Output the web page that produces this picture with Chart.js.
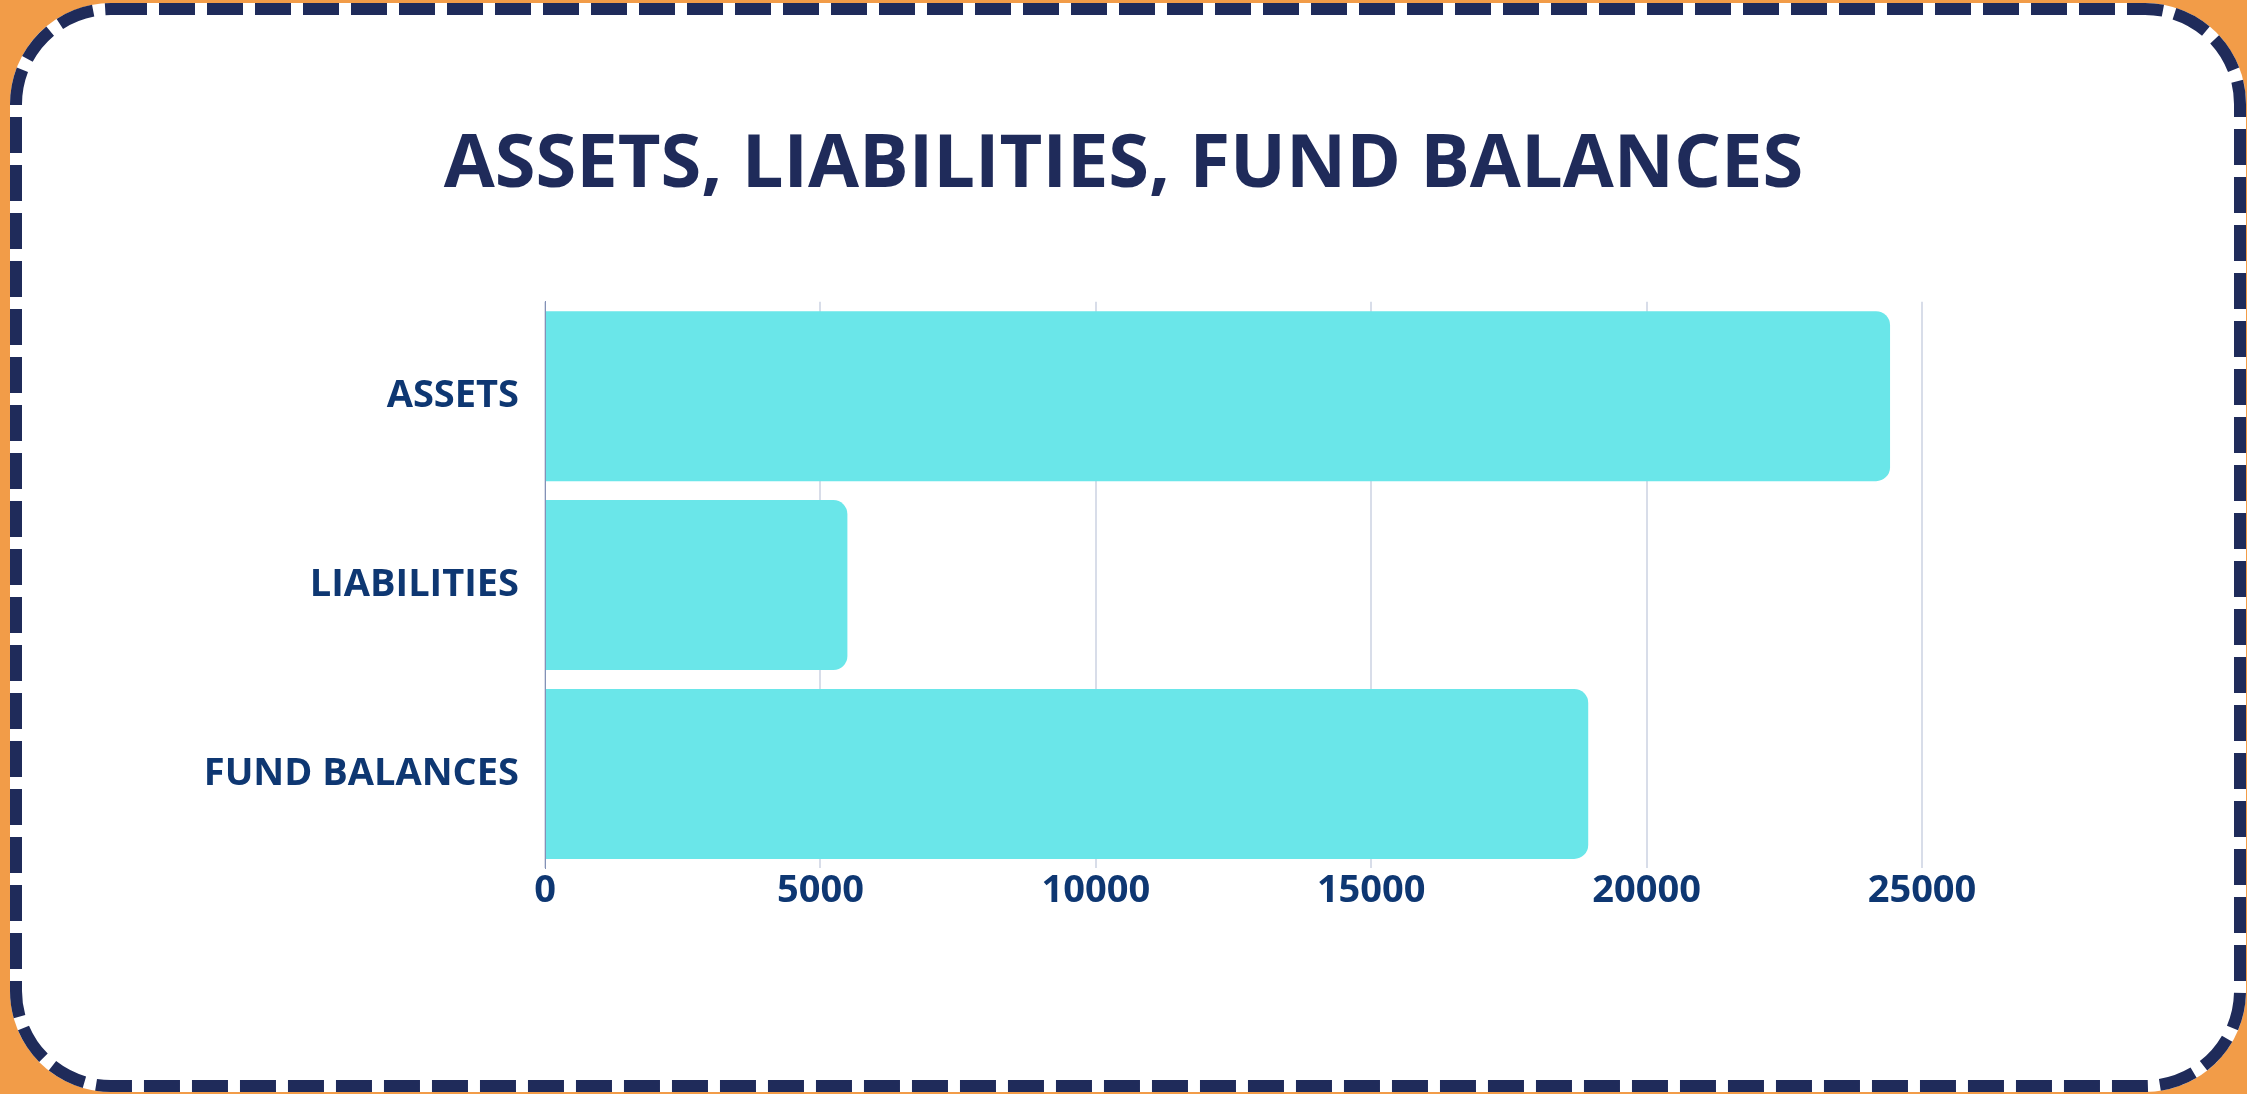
<!DOCTYPE html>
<html lang="en">
  <head>
    <meta charset="UTF-8" />
    <title>Assets, Liabilities, Fund Balances</title>
    <script src="https://cdn.jsdelivr.net/npm/chart.js"></script>
    <style>
      html, body { margin: 0; padding: 0; background: #f29c48; }
      #wrap { width: 2247px; height: 1094px; }
    </style>
  </head>
  <body>
    <div id="wrap"><canvas id="balanceChart" width="2247" height="1094"></canvas></div>

    <script>
      const categories = ["ASSETS", "LIABILITIES", "FUND BALANCES"];
      const amounts = [24420, 5490, 18940];
      const xTicks = [0, 5000, 10000, 15000, 20000, 25000];

      const navy = "#1f2b5a";
      const labelBlue = "#0e3772";

      // dashed rounded frame behind the chart
      const framePlugin = {
        id: "frame",
        beforeDraw(chart) {
          const ctx = chart.ctx;
          ctx.save();
          ctx.fillStyle = "#f29c48";
          ctx.fillRect(0, 0, chart.width, chart.height);
          ctx.fillStyle = "#ffffff";
          ctx.beginPath();
          ctx.roundRect(10, 3, 2236, 1089, 101);
          ctx.fill();
          ctx.strokeStyle = navy;
          ctx.lineWidth = 12;
          ctx.setLineDash([36, 12]);
          ctx.beginPath();
          ctx.roundRect(16, 9, 2224, 1077, 95);
          ctx.stroke();
          ctx.restore();
        },
      };

      const ctx = document.getElementById("balanceChart").getContext("2d");
      new Chart(ctx, {
        type: "bar",
        data: {
          labels: categories,
          datasets: [
            {
              data: amounts,
              backgroundColor: "#6ae6e9",
              borderRadius: 14,
              borderSkipped: "start",
              categoryPercentage: 1,
              barPercentage: 0.9,
            },
          ],
        },
        options: {
          indexAxis: "y",
          responsive: false,
          animation: false,
          layout: { padding: { top: 60, right: 0, bottom: 180, left: 0 } },
          plugins: {
            legend: { display: false },
            tooltip: { enabled: false },
            title: {
              display: true,
              text: "ASSETS, LIABILITIES, FUND BALANCES",
              color: navy,
              font: { family: "Open Sans", size: 74, weight: "bold" },
              padding: { top: 62, bottom: 91 },
            },
          },
          scales: {
            x: {
              min: 0,
              max: 25000,
              afterBuildTicks: (axis) => {
                axis.ticks = xTicks.map((v) => ({ value: v }));
              },
              grid: { color: "#d8dde9", lineWidth: 2, drawTicks: false },
              border: { display: false },
              ticks: {
                color: labelBlue,
                padding: 0,
                font: { family: "Open Sans", size: 38, weight: "bold" },
                callback: (v) => String(v),
              },
            },
            y: {
              grid: { display: false, drawTicks: false },
              border: { display: true, color: "#8391b6", width: 1 },
              afterFit: (axis) => {
                axis.width = 545;
              },
              ticks: {
                color: labelBlue,
                padding: 26,
                font: { family: "Open Sans", size: 38, weight: "bold" },
              },
            },
            // empty right-hand axis keeps white space right of the plot
            spacer: {
              type: "category",
              position: "right",
              grid: { display: false, drawTicks: false },
              border: { display: false },
              ticks: { display: false },
              afterFit: (axis) => {
                axis.width = 325;
              },
            },
          },
        },
        plugins: [framePlugin],
      });
    </script>
  </body>
</html>
